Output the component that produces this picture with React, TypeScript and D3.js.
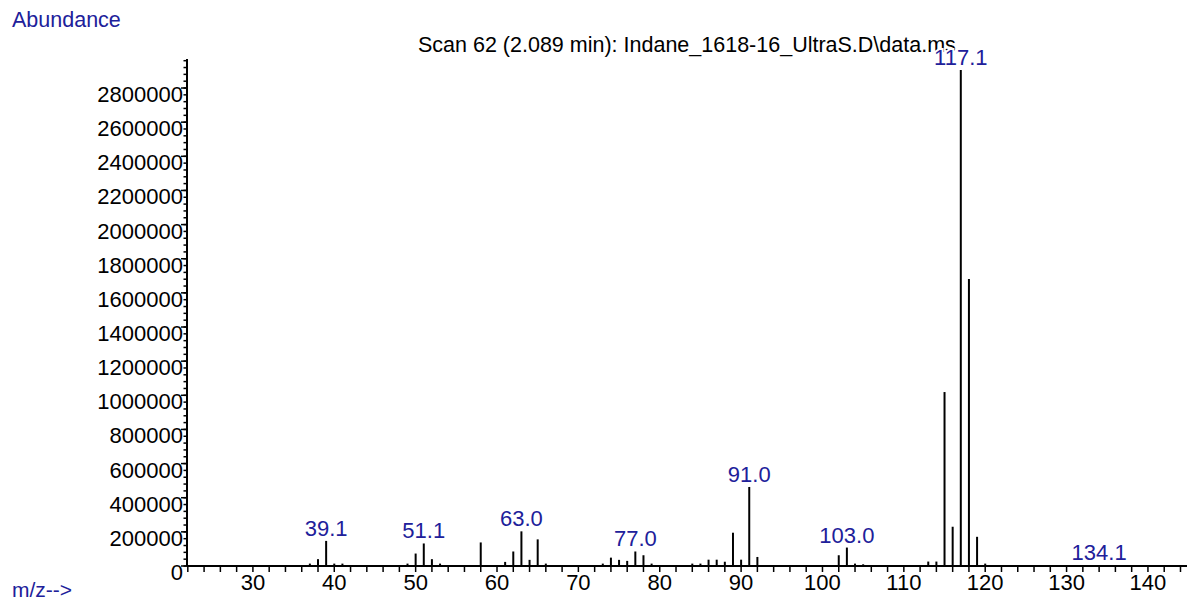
import * as d3 from "d3";
import React from "react";

// m/z of every peak and its abundance
const masses = [
  37, 38, 39, 40, 41, 49, 50, 51, 52, 53, 58, 61, 62, 63, 64, 65, 66, 73, 74, 75,
  76, 77, 78, 79, 84, 85, 86, 87, 88, 89, 90, 91, 92, 102, 103, 104, 105, 113,
  114, 115, 116, 117, 118, 119, 120, 134,
];
const abundance = [
  14000, 40000, 147000, 14000, 14000, 14000, 73000, 132000, 40000, 14000, 138000,
  24000, 85000, 203000, 36000, 156000, 14000, 14000, 49000, 36000, 30000, 85000,
  63000, 14000, 14000, 14000, 37000, 37000, 25000, 195000, 37000, 463000, 53000,
  63000, 108000, 14000, 10000, 26000, 26000, 1019000, 230000, 2906000, 1681000,
  171000, 14000, 5000,
];

// annotated peaks
const peakLabels = ["39.1", "51.1", "63.0", "77.0", "91.0", "103.0", "117.1", "134.1"];

const xTicks = [30, 40, 50, 60, 70, 80, 90, 100, 110, 120, 130, 140];
const yTicks = [
  0, 200000, 400000, 600000, 800000, 1000000, 1200000, 1400000, 1600000,
  1800000, 2000000, 2200000, 2400000, 2600000, 2800000,
];

const title = "Scan 62 (2.089 min): Indane_1618-16_UltraS.D\\data.ms";

export default function App() {
  const width = 1187;
  const height = 606;
  const blue = "#20209a";
  const font = "'Liberation Sans', Arial, sans-serif";

  const x = d3.scaleLinear().domain([21.9, 144.8]).range([187, 1187]);
  const y = d3.scaleLinear().domain([0, 2970000]).range([566, 59]);

  const minorX = d3.range(22, 145, 2);
  const minorY = d3.range(0, 2970000, 40000);

  const peaks = masses.map((m, i) => ({ m, v: abundance[i] }));

  return (
    <svg
      width={width}
      height={height}
      style={{ position: "fixed", left: 0, top: 0, background: "#fff" }}
      fontFamily={font}
    >
      {/* title */}
      <text x={418} y={52} fontSize={21.5} fill="#000">
        {title}
      </text>
      <text x={12} y={27} fontSize={21.5} fill={blue}>
        Abundance
      </text>
      <text x={12} y={597} fontSize={21} fill={blue}>
        m/z--&gt;
      </text>

      {/* y axis */}
      <line x1={187} x2={187} y1={y(0)} y2={y.range()[1]} stroke="#000" strokeWidth={2} />
      {minorY.map((v) => (
        <line key={"my" + v} x1={183.5} x2={187} y1={y(v)} y2={y(v)} stroke="#000" strokeWidth={1.5} />
      ))}
      {yTicks.map((v) => (
        <g key={"y" + v}>
          <line x1={181} x2={187} y1={y(v)} y2={y(v)} stroke="#000" strokeWidth={1.5} />
          <text x={183} y={y(v) + 14} fontSize={22} textAnchor="end" fill="#000">
            {v}
          </text>
        </g>
      ))}

      {/* x axis */}
      <line x1={187} x2={width} y1={y(0)} y2={y(0)} stroke="#000" strokeWidth={2} />
      {minorX.map((m) => (
        <line key={"mx" + m} x1={x(m)} x2={x(m)} y1={y(0)} y2={y(0) + 6} stroke="#000" strokeWidth={1.5} />
      ))}
      {xTicks.map((m) => (
        <text key={"x" + m} x={x(m)} y={590} fontSize={22} textAnchor="middle" fill="#000">
          {m}
        </text>
      ))}

      {/* peaks */}
      {peaks.map((p) => (
        <line key={"p" + p.m} x1={x(p.m)} x2={x(p.m)} y1={y(0)} y2={y(p.v)} stroke="#000" strokeWidth={2} />
      ))}

      {/* peak labels */}
      {peakLabels.map((lab) => {
        const m = Math.round(+lab);
        const p = peaks.find((d) => d.m === m);
        const top = p ? y(p.v) : y(0);
        return (
          <text
            key={"l" + lab}
            x={x(m)}
            y={top - 5}
            fontSize={22}
            textAnchor="middle"
            fill={blue}
            stroke="#fff"
            strokeWidth={4}
            paintOrder="stroke"
          >
            {lab}
          </text>
        );
      })}
    </svg>
  );
}
